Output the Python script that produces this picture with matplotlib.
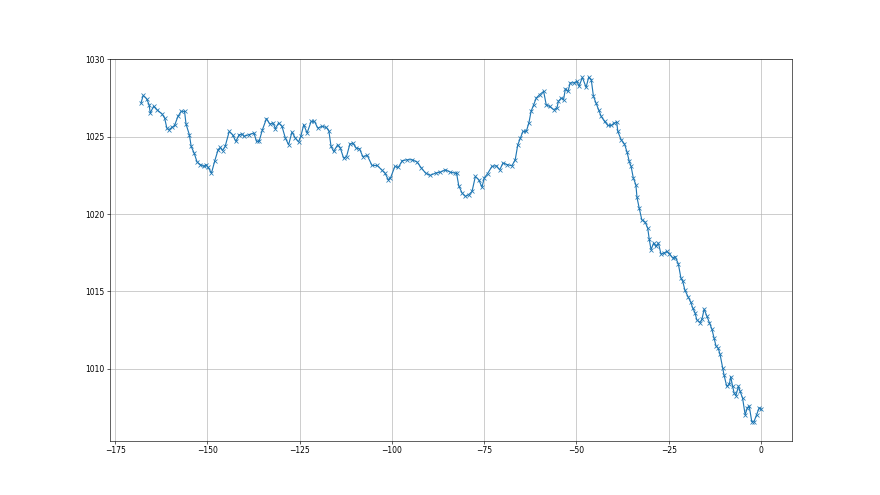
"""
pressure_last_week.py

Barometric pressure over the last 168 hours (hour 0 = now).
Values read off the reference chart.
"""

from matplotlib import pyplot as plt

# hours before now
hours = [
    -168.0, -167.4, -166.5, -165.8, -165.5, -164.6, -163.7, -162.3, -161.6, -161.0,
    -160.5, -159.6, -158.9, -158.0, -157.1, -156.2, -155.8, -154.9, -154.4, -153.6,
    -152.8, -151.9, -151.0, -150.4, -149.8, -148.9, -148.0, -147.1, -146.5, -145.9,
    -145.2, -144.1, -143.2, -142.3, -141.4, -140.5, -140.1, -138.8, -137.4, -136.7,
    -136.0, -135.1, -134.0, -133.1, -132.2, -131.6, -130.7, -129.8, -128.9, -128.0,
    -127.1, -126.2, -125.3, -124.7, -123.9, -123.0, -121.9, -121.0, -120.1, -118.9,
    -117.8, -117.1, -116.5, -115.8, -114.7, -114.0, -113.1, -112.3, -111.4, -110.6,
    -109.7, -108.8, -107.9, -106.7, -105.4, -104.0, -102.8, -101.9, -101.0, -100.4,
    -99.2, -98.3, -97.2, -95.9, -94.5, -93.2, -92.0, -90.9, -89.6, -88.2,
    -86.9, -85.5, -84.2, -83.0, -82.5, -81.9, -81.0, -80.1, -79.2, -78.3,
    -77.4, -76.5, -75.6, -75.0, -74.1, -72.9, -71.7, -70.8, -69.9, -68.7,
    -67.5, -66.6, -65.9, -65.2, -64.5, -63.6, -62.9, -62.3, -61.6, -60.9,
    -60.0, -58.9, -58.2, -57.3, -56.2, -55.3, -54.9, -54.1, -53.5, -53.0,
    -52.3, -51.7, -50.8, -49.9, -49.3, -48.4, -47.4, -46.7, -46.0, -45.4,
    -44.7, -44.0, -43.3, -42.4, -41.5, -40.6, -39.7, -39.1, -38.8, -37.9,
    -37.0, -36.3, -35.7, -35.2, -34.6, -33.9, -33.6, -33.0, -32.3, -31.4,
    -30.7, -30.3, -29.8, -29.1, -28.5, -27.8, -27.1, -26.4, -25.5, -24.8,
    -23.9, -23.3, -22.4, -21.7, -21.2, -20.6, -19.7, -19.0, -18.5, -17.9,
    -17.4, -16.5, -16.0, -15.4, -14.7, -14.0, -13.3, -12.7, -12.2, -11.6,
    -11.1, -10.4, -10.0, -9.3, -8.6, -8.2, -7.7, -7.3, -6.8, -6.1,
    -5.7, -5.0, -4.3, -3.7, -3.2, -2.5, -1.9, -1.2, -0.5, 0.0,
]

# pressure (hPa)
pressure = [
    1027.18, 1027.67, 1027.46, 1027.07, 1026.53, 1026.96, 1026.75, 1026.47, 1026.21, 1025.56,
    1025.45, 1025.60, 1025.73, 1026.31, 1026.64, 1026.64, 1025.82, 1025.13, 1024.37, 1023.94,
    1023.36, 1023.19, 1023.08, 1023.19, 1023.01, 1022.65, 1023.45, 1024.16, 1024.31, 1024.10,
    1024.37, 1025.34, 1025.13, 1024.70, 1025.13, 1025.17, 1025.02, 1025.13, 1025.24, 1024.70,
    1024.70, 1025.45, 1026.17, 1025.82, 1025.89, 1025.52, 1025.89, 1025.67, 1024.92, 1024.48,
    1025.30, 1024.92, 1024.66, 1025.02, 1025.78, 1025.24, 1025.99, 1025.99, 1025.56, 1025.67,
    1025.60, 1025.39, 1024.37, 1024.05, 1024.48, 1024.27, 1023.62, 1023.72, 1024.53, 1024.59,
    1024.27, 1024.22, 1023.72, 1023.79, 1023.14, 1023.14, 1022.86, 1022.65, 1022.22, 1022.33,
    1023.08, 1023.01, 1023.45, 1023.51, 1023.51, 1023.36, 1022.97, 1022.65, 1022.50, 1022.65,
    1022.71, 1022.86, 1022.71, 1022.65, 1022.65, 1021.83, 1021.36, 1021.14, 1021.25, 1021.46,
    1022.43, 1022.22, 1021.74, 1022.33, 1022.61, 1023.08, 1023.12, 1022.86, 1023.30, 1023.19,
    1023.12, 1023.51, 1024.48, 1024.92, 1025.34, 1025.34, 1025.89, 1026.64, 1027.07, 1027.50,
    1027.72, 1027.93, 1027.07, 1026.96, 1026.75, 1026.86, 1027.29, 1027.50, 1027.40, 1028.10,
    1027.93, 1028.48, 1028.48, 1028.58, 1028.26, 1028.84, 1028.19, 1028.84, 1028.69, 1027.61,
    1027.18, 1026.75, 1026.31, 1025.99, 1025.73, 1025.73, 1025.89, 1025.95, 1025.34, 1024.81,
    1024.53, 1024.01, 1023.40, 1023.08, 1022.33, 1021.89, 1021.07, 1020.38, 1019.63, 1019.48,
    1019.09, 1018.40, 1017.69, 1018.12, 1017.90, 1018.12, 1017.41, 1017.47, 1017.58, 1017.43,
    1017.15, 1017.25, 1016.78, 1015.86, 1015.64, 1015.06, 1014.63, 1014.28, 1013.92, 1013.63,
    1013.16, 1012.98, 1013.20, 1013.85, 1013.41, 1012.98, 1012.55, 1011.97, 1011.47, 1011.32,
    1010.93, 1010.07, 1009.57, 1008.87, 1008.98, 1009.48, 1008.87, 1008.44, 1008.26, 1008.87,
    1008.55, 1008.11, 1007.02, 1007.46, 1007.59, 1006.57, 1006.57, 1007.02, 1007.46, 1007.40,
]


def main():
    # 16x9 inch figure drawn at 55 dpi -> 880x495
    fig, ax = plt.subplots(figsize=(16, 9), dpi=55)
    ax.plot(hours, pressure, marker='x')

    ax.set_ylim(1005.35, 1030)
    ax.grid(True)

    fig.savefig('out.png', dpi=55)


if __name__ == '__main__':
    main()
